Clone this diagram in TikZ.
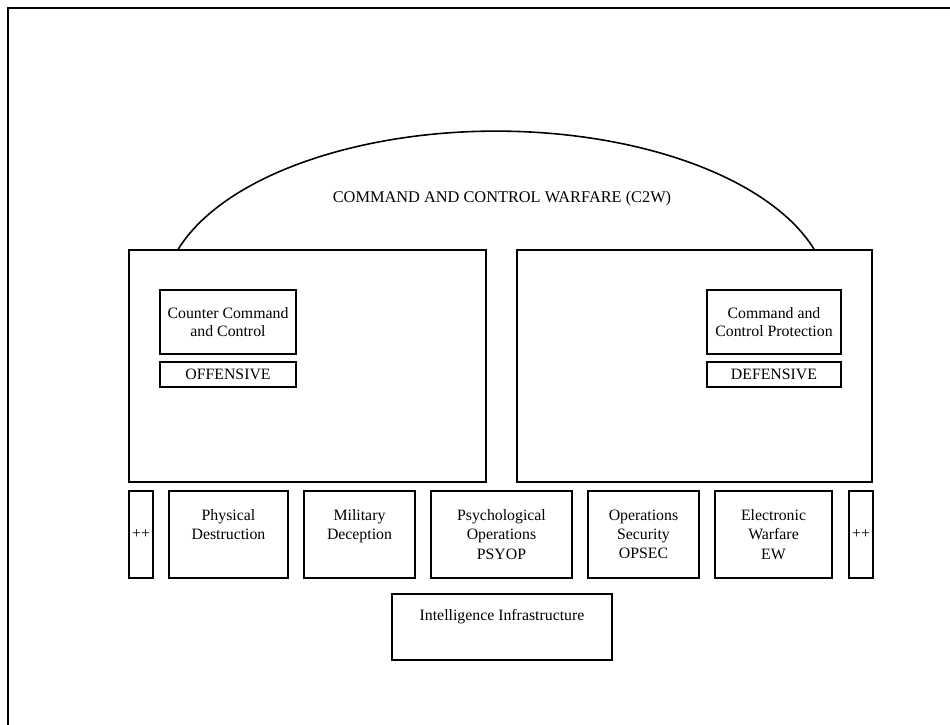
\documentclass[tikz,border=0pt]{standalone}
\usepackage{fontspec}
\setmainfont{Liberation Serif}
\usepackage{tikz}

\begin{document}
\begin{tikzpicture}[
  box/.style={draw, rectangle, line width=0.9pt, inner sep=1pt, align=center, font=\fontsize{9}{10}\selectfont},
  opbox/.style={box, minimum height=1.74cm, font=\fontsize{9}{11}\selectfont}
]
\useasboundingbox (0,0) rectangle (19,14.5);
\draw[line width=1.4pt] (0.16,0) -- (0.16,14.34) -- (19,14.34);

\node[box, minimum width=7.14cm, minimum height=4.64cm] (offense) at (6.15,7.18) {};
\node[box, minimum width=7.10cm, minimum height=4.64cm] (defense) at (13.89,7.18) {};
\draw[line width=0.9pt] ([xshift=1cm]offense.north west) arc[start angle=162.7, end angle=17.3, x radius=6.66cm, y radius=3.36cm];
\node[font=\fontsize{9.3}{10}\selectfont] (c2w) at (10.04,10.53) {COMMAND AND CONTROL WARFARE (C2W)};

\node[box, minimum width=2.72cm, minimum height=1.28cm] (ccc) at (4.56,8.06) {Counter Command\\and Control};
\node[box, minimum width=2.72cm, minimum height=0.5cm] (offtag) at (4.56,7.01) {OFFENSIVE};
\node[box, minimum width=2.68cm, minimum height=1.28cm] (ccp) at (15.48,8.06) {Command and\\Control Protection};
\node[box, minimum width=2.68cm, minimum height=0.5cm] (deftag) at (15.48,7.01) {DEFENSIVE};

\node[opbox, minimum width=0.48cm, inner sep=0pt] (plusl) at (2.82,3.81) {++};
\node[opbox, minimum width=2.38cm] (physdes) at (4.57,3.81) {Physical\\Destruction\\~};
\node[opbox, minimum width=2.22cm] (mildec) at (7.19,3.81) {Military\\Deception\\~};
\node[opbox, minimum width=2.82cm] (psyop) at (10.03,3.81) {Psychological\\Operations\\PSYOP};
\node[opbox, minimum width=2.22cm] (opsec) at (12.87,3.81) {Operations\\Security\\OPSEC};
\node[opbox, minimum width=2.34cm] (ew) at (15.47,3.81) {Electronic\\Warfare\\EW};
\node[opbox, minimum width=0.48cm, inner sep=0pt] (plusr) at (17.22,3.81) {++};

\node[box, minimum width=4.4cm, minimum height=1.32cm] (intel) at (10.04,1.96) {Intelligence Infrastructure\\[4pt]~};
\end{tikzpicture}
\end{document}
